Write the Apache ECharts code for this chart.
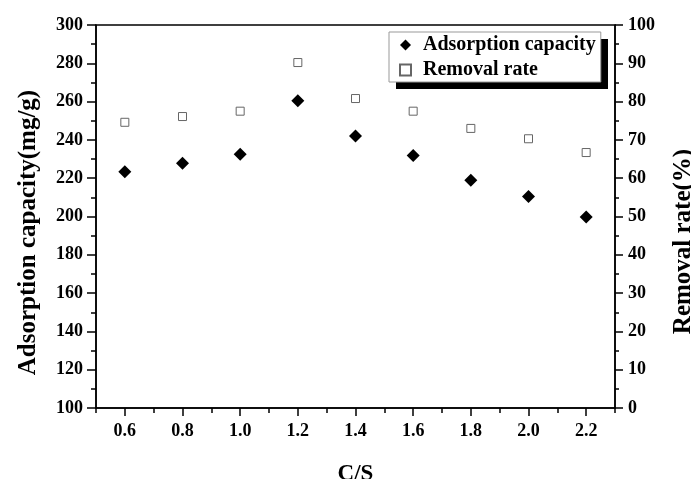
<!DOCTYPE html>
<html>
<head>
<meta charset="utf-8">
<script src="https://cdn.jsdelivr.net/npm/echarts@6/dist/echarts.min.js"></script>
<style>
  html, body { margin: 0; padding: 0; background: #fff; }
  #chart { width: 691px; height: 479px; }
</style>
</head>
<body>
<div id="chart"></div>
<script>
// data
const csRatio = [0.6, 0.8, 1.0, 1.2, 1.4, 1.6, 1.8, 2.0, 2.2]
const adsorptionCapacity = [223.4, 227.8, 232.5, 260.5, 242.0, 231.8, 218.9, 210.5, 199.7]
const removalRate = [74.6, 76.1, 77.5, 90.2, 80.8, 77.5, 73.0, 70.3, 66.7]

// x ticks: labelled majors and unlabelled minors
const xMajorTicks = [0.6, 0.8, 1.0, 1.2, 1.4, 1.6, 1.8, 2.0, 2.2]
const xMinorTicks = [0.5, 0.7, 0.9, 1.1, 1.3, 1.5, 1.7, 1.9, 2.1, 2.3]

const font = "'Liberation Serif', 'Times New Roman', serif"

const chart = echarts.init(document.getElementById('chart'))

const option = {
  animation: false,
  backgroundColor: '#fff',
  textStyle: { fontFamily: font, fontWeight: 'bold', color: '#000' },
  grid: {
    left: 96,
    right: 76,
    top: 25,
    bottom: 71,
    containLabel: false,
    outerBoundsMode: 'none',
    show: true,
    borderColor: '#000',
    borderWidth: 1.5
  },
  // black drop shadow behind the legend box
  graphic: [
    {
      type: 'rect',
      left: 396,
      top: 39,
      z: 1,
      shape: { width: 212, height: 50 },
      style: { fill: '#000' }
    }
  ],
  legend: {
    orient: 'vertical',
    left: 389,
    top: 32,
    z: 10,
    padding: [3, 5, 2, 10],
    itemGap: 5,
    itemWidth: 11,
    itemHeight: 11,
    backgroundColor: '#fff',
    borderColor: '#999',
    borderWidth: 1,
    textStyle: {
      fontFamily: font,
      fontWeight: 'bold',
      fontSize: 20,
      color: '#000',
      lineHeight: 20,
      padding: [0, 0, 0, 7]
    },
    data: [
      { name: 'Adsorption capacity', icon: 'diamond' },
      { name: 'Removal rate', icon: 'rect' }
    ]
  },
  xAxis: [
    {
      type: 'value',
      min: 0.5,
      max: 2.3,
      name: 'C/S',
      nameLocation: 'middle',
      nameGap: 55,
      nameTextStyle: { fontFamily: font, fontWeight: 'bold', fontSize: 23, color: '#000' },
      axisLine: { onZero: false, lineStyle: { color: '#000', width: 1.5 } },
      axisTick: { customValues: xMajorTicks, length: 8, lineStyle: { color: '#000', width: 1.5 } },
      axisLabel: {
        customValues: xMajorTicks,
        margin: 14,
        fontFamily: font,
        fontWeight: 'bold',
        fontSize: 18,
        color: '#000',
        formatter: (v) => v.toFixed(1)
      },
      splitLine: { show: false }
    },
    {
      type: 'value',
      position: 'bottom',
      min: 0.5,
      max: 2.3,
      axisLine: { show: false },
      axisTick: { customValues: xMinorTicks, length: 5, lineStyle: { color: '#000', width: 1.5 } },
      axisLabel: { show: false },
      splitLine: { show: false }
    }
  ],
  yAxis: [
    {
      type: 'value',
      min: 100,
      max: 300,
      interval: 20,
      name: 'Adsorption capacity(mg/g)',
      nameLocation: 'middle',
      nameRotate: 90,
      nameGap: 55,
      // title sits a little below the axis centre in the original
      nameTextStyle: { fontFamily: font, fontWeight: 'bold', fontSize: 25, color: '#000', padding: [0, 32, 0, 0] },
      axisLine: { show: true, onZero: false, lineStyle: { color: '#000', width: 1.5 } },
      axisTick: { length: 9, lineStyle: { color: '#000', width: 1.5 } },
      minorTick: { show: true, splitNumber: 2, length: 5, lineStyle: { color: '#000', width: 1.5 } },
      axisLabel: { margin: 13, fontFamily: font, fontWeight: 'bold', fontSize: 18, color: '#000' },
      splitLine: { show: false }
    },
    {
      type: 'value',
      position: 'right',
      min: 0,
      max: 100,
      interval: 10,
      name: 'Removal rate(%)',
      nameLocation: 'middle',
      nameRotate: 90,
      nameGap: 56,
      nameTextStyle: { fontFamily: font, fontWeight: 'bold', fontSize: 25, color: '#000', padding: [0, 50, 0, 0] },
      axisLine: { show: true, onZero: false, lineStyle: { color: '#000', width: 1.5 } },
      axisTick: { length: 8, lineStyle: { color: '#000', width: 1.5 } },
      minorTick: { show: true, splitNumber: 2, length: 4, lineStyle: { color: '#000', width: 1.5 } },
      axisLabel: { margin: 13, fontFamily: font, fontWeight: 'bold', fontSize: 18, color: '#000' },
      splitLine: { show: false }
    }
  ],
  series: [
    {
      name: 'Adsorption capacity',
      type: 'scatter',
      xAxisIndex: 0,
      yAxisIndex: 0,
      symbol: 'diamond',
      symbolSize: 13,
      itemStyle: { color: '#000', opacity: 1 },
      data: csRatio.map((x, i) => [x, adsorptionCapacity[i]])
    },
    {
      name: 'Removal rate',
      type: 'scatter',
      xAxisIndex: 0,
      yAxisIndex: 1,
      symbol: 'rect',
      symbolSize: 8,
      itemStyle: { color: '#fff', borderColor: '#666', borderWidth: 1, opacity: 1 },
      data: csRatio.map((x, i) => [x, removalRate[i]])
    }
  ]
}

chart.setOption(option)
</script>
</body>
</html>
